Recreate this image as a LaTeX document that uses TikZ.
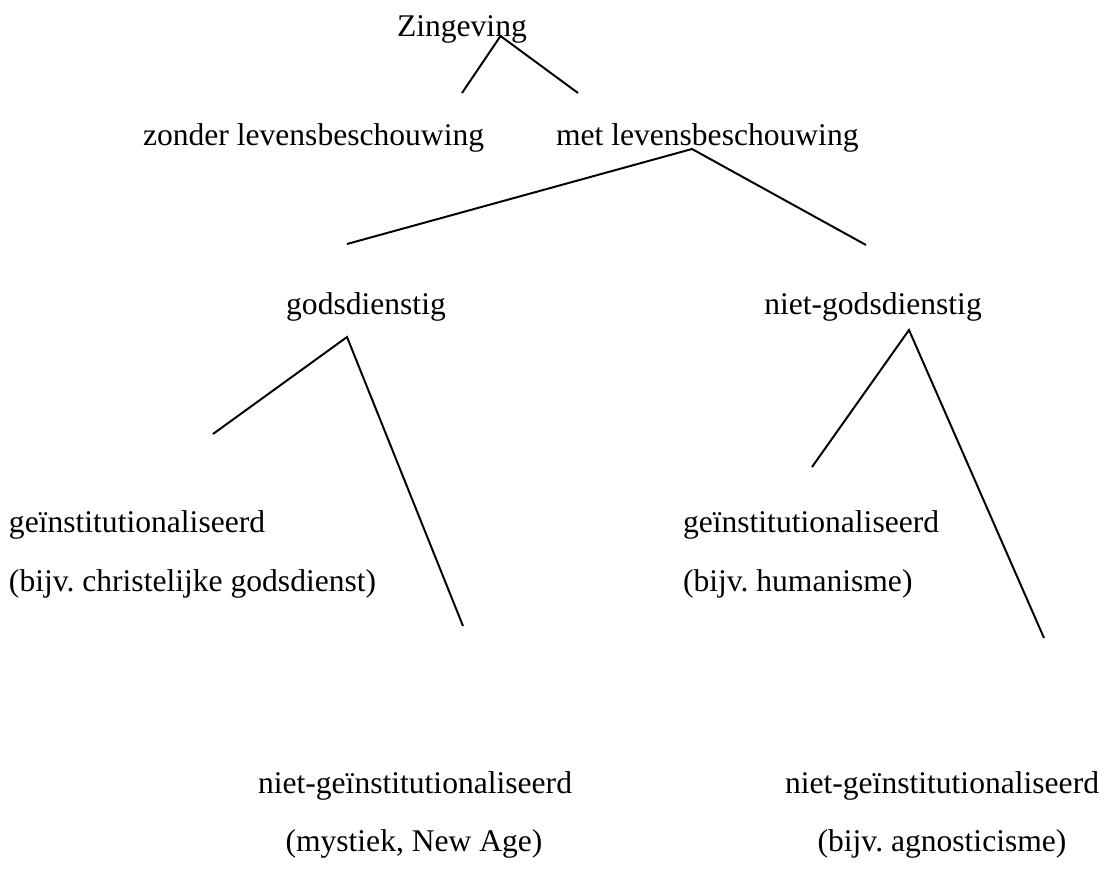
\documentclass[tikz,border=0pt]{standalone}
\usepackage{fontspec}
\setmainfont{Liberation Serif}
\frenchspacing
\tikzset{
  lbl/.style={inner sep=0pt, outer sep=0pt, font=\fontsize{12}{14}\selectfont},
  branch/.style={color=black, line width=0.75}
}
\begin{document}
\begin{tikzpicture}[x=0.38pt,y=0.38pt,yscale=-1,xscale=1]
\useasboundingbox (0,0) rectangle (1114,868);

%Text Node
\node [lbl, anchor=base west] (zingeving) at (397,37) {Zingeving};
%Text Node
\node [lbl, anchor=base west] (zonder) at (143,146) {zonder levensbeschouwing};
%Text Node
\node [lbl, anchor=base west] (met) at (556,146) {met levensbeschouwing};
%Text Node
\node [lbl, anchor=base] (gods) at (366,314) {godsdienstig};
%Text Node
\node [lbl, anchor=base] (nietgods) at (873,314) {niet-godsdienstig};
%Text Node
\node [lbl, anchor=base west] (instL) at (9,532) {geïnstitutionaliseerd};
\node [lbl, anchor=base west] (instLex) at (9,591) {(bijv. christelijke godsdienst)};
%Text Node
\node [lbl, anchor=base west] (instR) at (683,532) {geïnstitutionaliseerd};
\node [lbl, anchor=base west] (instRex) at (683,591) {(bijv. humanisme)};
%Text Node
\node [lbl, anchor=base] (nietinstL) at (415,793) {niet-geïnstitutionaliseerd};
\node [lbl, anchor=base] (nietinstLex) at (414,851) {(mystiek, New Age)};
%Text Node
\node [lbl, anchor=base] (nietinstR) at (942,793) {niet-geïnstitutionaliseerd};
\node [lbl, anchor=base] (nietinstRex) at (942,851) {(bijv. agnosticisme)};

%Branch points
\coordinate (zgTop) at (500.5,36);
\coordinate (zgL) at (462,93);
\coordinate (zgR) at (578,93);
\coordinate (metTop) at (692,149);
\coordinate (metL) at (347,244);
\coordinate (metR) at (866,245);
\coordinate (godsTop) at (347,337);
\coordinate (godsL) at (213,434);
\coordinate (godsR) at (463,626);
\coordinate (ngTop) at (909,330);
\coordinate (ngL) at (812,467);
\coordinate (ngR) at (1044,638);

%Straight Lines
\draw [branch] (zgL) -- (zgTop) -- (zgR) ;
%Straight Lines
\draw [branch] (metL) -- (metTop) -- (metR) ;
%Straight Lines
\draw [branch] (godsL) -- (godsTop) -- (godsR) ;
%Straight Lines
\draw [branch] (ngL) -- (ngTop) -- (ngR) ;
\end{tikzpicture}
\end{document}
